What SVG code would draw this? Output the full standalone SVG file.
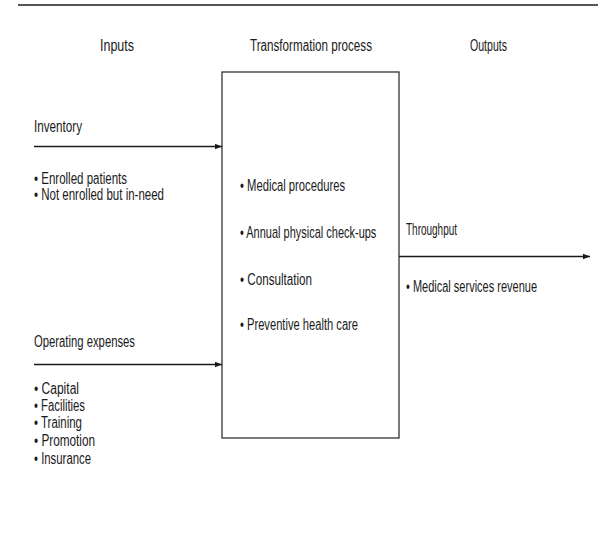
<svg xmlns="http://www.w3.org/2000/svg" width="604" height="540" viewBox="0 0 604 540">
<style>
text{font-family:"Liberation Sans",Arial,sans-serif;font-size:16px;fill:#1a1a1a}
.ln{stroke:#1a1a1a;stroke-width:1.3;fill:none}
</style>
<defs>
<marker id="ah" viewBox="0 0 10 10" refX="10" refY="5" markerWidth="7" markerHeight="7" markerUnits="userSpaceOnUse" orient="auto">
<path d="M0,1 L10,5 L0,9 z" fill="#1a1a1a"/>
</marker>
</defs>
<rect width="604" height="540" fill="#fff"/>
<line x1="18" y1="5" x2="598" y2="5" stroke="#555" stroke-width="2"/>
<g id="headers">
<text x="100" y="51" textLength="34" lengthAdjust="spacingAndGlyphs">Inputs</text>
<text x="250" y="51" textLength="122" lengthAdjust="spacingAndGlyphs">Transformation process</text>
<text x="470" y="51" textLength="37" lengthAdjust="spacingAndGlyphs">Outputs</text>
</g>
<g id="process">
<rect x="222" y="72" width="177" height="366" fill="#fff" stroke="#333" stroke-width="1.3"/>
<text x="240" y="191" textLength="105" lengthAdjust="spacingAndGlyphs">• Medical procedures</text>
<text transform="translate(240,238) scale(0.687,1)" x="0" y="0">• Annual physical check-ups</text>
<text x="240" y="285" textLength="72" lengthAdjust="spacingAndGlyphs">• Consultation</text>
<text x="240" y="330" textLength="118" lengthAdjust="spacingAndGlyphs">• Preventive health care</text>
</g>
<g id="inventory">
<text x="34" y="132" textLength="48" lengthAdjust="spacingAndGlyphs">Inventory</text>
<text x="34" y="184" textLength="93" lengthAdjust="spacingAndGlyphs">• Enrolled patients</text>
<text x="34" y="200" textLength="130" lengthAdjust="spacingAndGlyphs">• Not enrolled but in-need</text>
</g>
<g id="operating">
<text x="34" y="347" textLength="101" lengthAdjust="spacingAndGlyphs">Operating expenses</text>
<text x="34" y="394" textLength="45" lengthAdjust="spacingAndGlyphs">• Capital</text>
<text x="34" y="411" textLength="51" lengthAdjust="spacingAndGlyphs">• Facilities</text>
<text x="34" y="428" textLength="48" lengthAdjust="spacingAndGlyphs">• Training</text>
<text x="34" y="446" textLength="61" lengthAdjust="spacingAndGlyphs">• Promotion</text>
<text x="34" y="464" textLength="57" lengthAdjust="spacingAndGlyphs">• Insurance</text>
</g>
<g id="throughput">
<text x="406" y="235" textLength="51" lengthAdjust="spacingAndGlyphs">Throughput</text>
<text x="406" y="292" textLength="131" lengthAdjust="spacingAndGlyphs">• Medical services revenue</text>
</g>
<g id="connectors">
<line class="ln" x1="34" y1="146.5" x2="222" y2="146.5" marker-end="url(#ah)"/>
<line class="ln" x1="34" y1="364.5" x2="222" y2="364.5" marker-end="url(#ah)"/>
<line class="ln" x1="399" y1="256.5" x2="590" y2="256.5" marker-end="url(#ah)"/>
</g>
</svg>
